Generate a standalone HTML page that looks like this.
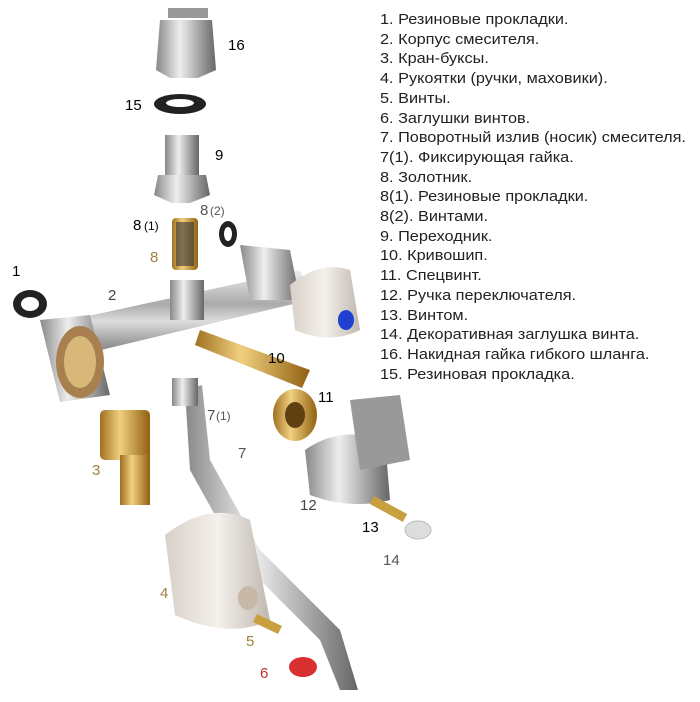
<!DOCTYPE html>
<html><head><meta charset="utf-8"><style>
body{margin:0;width:700px;height:702px;background:#fff;overflow:hidden;position:relative;font-family:"Liberation Sans",sans-serif}
.leg{position:absolute;left:380px;top:10px;font-size:15px;line-height:19.7px;color:#222;white-space:nowrap;transform:scaleX(1.085);transform-origin:0 0}
svg{position:absolute;left:0;top:0}
.l{font-family:"Liberation Sans",sans-serif;font-size:15px}
</style></head><body>
<svg width="700" height="702">
<defs>
<linearGradient id="chr" x1="0" y1="0" x2="0" y2="1"><stop offset="0" stop-color="#eee"/><stop offset=".4" stop-color="#aaa"/><stop offset=".6" stop-color="#ddd"/><stop offset="1" stop-color="#777"/></linearGradient>
<linearGradient id="chrh" x1="0" y1="0" x2="1" y2="0"><stop offset="0" stop-color="#888"/><stop offset=".4" stop-color="#eee"/><stop offset=".7" stop-color="#aaa"/><stop offset="1" stop-color="#666"/></linearGradient>
<linearGradient id="br" x1="0" y1="0" x2="1" y2="0"><stop offset="0" stop-color="#a07020"/><stop offset=".4" stop-color="#f0d080"/><stop offset="1" stop-color="#906010"/></linearGradient>
<linearGradient id="wh" x1="0" y1="0" x2="1" y2="0"><stop offset="0" stop-color="#d8d0c8"/><stop offset=".5" stop-color="#f4f0ec"/><stop offset="1" stop-color="#c0b8b0"/></linearGradient>
</defs>
<rect x="168" y="8" width="40" height="10" fill="#999"/>
<path d="M160 20 L212 20 L216 70 L198 78 L170 78 L156 70 Z" fill="url(#chrh)"/>
<text x="228" y="50" class="l">16</text>
<ellipse cx="180" cy="104" rx="26" ry="10" fill="#222"/><ellipse cx="180" cy="103" rx="14" ry="4" fill="#fff"/>
<text x="125" y="110" class="l">15</text>
<rect x="165" y="135" width="34" height="42" fill="url(#chrh)"/>
<path d="M158 175 L206 175 L210 195 L190 203 L172 203 L154 195Z" fill="url(#chrh)"/>
<text x="215" y="160" class="l">9</text>
<rect x="172" y="218" width="26" height="52" rx="4" fill="url(#br)"/>
<rect x="176" y="222" width="18" height="44" fill="#333" opacity=".6"/>
<text x="150" y="262" class="l" fill="#a08040">8</text>
<text x="133" y="230" class="l">8</text><text x="144" y="230" font-size="12" font-family="Liberation Sans">(1)</text>
<text x="200" y="215" class="l" fill="#555">8</text><text x="210" y="215" font-size="12" fill="#555" font-family="Liberation Sans">(2)</text>
<ellipse cx="228" cy="234" rx="9" ry="13" fill="#222"/><ellipse cx="228" cy="234" rx="4" ry="7" fill="#fff"/>
<text x="12" y="276" class="l">1</text>
<ellipse cx="30" cy="304" rx="17" ry="14" fill="#222"/><ellipse cx="30" cy="304" rx="9" ry="7" fill="#fff"/>
<path d="M70 320 L300 270 L310 300 L80 355Z" fill="url(#chr)"/>
<path d="M240 245 L290 250 L300 300 L250 300Z" fill="url(#chrh)"/>
<path d="M40 320 L90 315 L110 395 L60 402Z" fill="url(#chrh)"/>
<ellipse cx="80" cy="362" rx="24" ry="36" fill="#a88050"/><ellipse cx="80" cy="362" rx="16" ry="26" fill="#d8b878"/>
<rect x="170" y="280" width="34" height="40" fill="url(#chrh)"/>
<text x="108" y="300" class="l" fill="#444">2</text>
<path d="M290 285 Q320 260 350 270 L360 330 Q330 345 295 330Z" fill="url(#wh)"/>
<ellipse cx="346" cy="320" rx="8" ry="10" fill="#2040d0"/>
<path d="M200 330 L310 370 L302 388 L195 345Z" fill="url(#br)"/>
<text x="268" y="363" class="l">10</text>
<ellipse cx="295" cy="415" rx="22" ry="26" fill="url(#br)"/><ellipse cx="295" cy="415" rx="10" ry="13" fill="#604010"/>
<text x="318" y="402" class="l">11</text>
<rect x="100" y="410" width="50" height="50" rx="5" fill="url(#br)"/>
<rect x="120" y="455" width="30" height="50" fill="url(#br)"/>
<text x="92" y="475" class="l" fill="#a08040">3</text>
<path d="M185 390 L190 470 L240 560 L320 640 L340 690 L358 690 L340 630 L260 550 L210 460 L202 385Z" fill="url(#chrh)"/>
<rect x="172" y="378" width="26" height="28" fill="url(#chrh)"/>
<text x="207" y="420" class="l" fill="#555">7</text><text x="216" y="420" font-size="12" fill="#555" font-family="Liberation Sans">(1)</text>
<text x="238" y="458" class="l" fill="#555">7</text>
<path d="M305 450 Q340 425 385 440 L390 500 Q350 510 310 495Z" fill="url(#chrh)"/>
<path d="M350 400 L400 395 L410 460 L360 470Z" fill="#999"/>
<text x="300" y="510" class="l" fill="#444">12</text>
<path d="M372 500 L405 518" stroke="#c8a040" stroke-width="9"/>
<text x="362" y="532" class="l">13</text>
<ellipse cx="418" cy="530" rx="13" ry="9" fill="#ddd" stroke="#bbb"/>
<text x="383" y="565" class="l" fill="#555">14</text>
<path d="M165 535 Q210 500 250 520 L270 620 Q230 640 175 615Z" fill="url(#wh)"/>
<ellipse cx="248" cy="598" rx="10" ry="12" fill="#c8b8a8"/>
<text x="160" y="598" class="l" fill="#a08040">4</text>
<path d="M255 618 L280 630" stroke="#c8a040" stroke-width="9"/>
<text x="246" y="646" class="l" fill="#a08040">5</text>
<ellipse cx="303" cy="667" rx="14" ry="10" fill="#d83030"/>
<text x="260" y="678" class="l" fill="#c03030">6</text>
</svg>
<div class="leg">1. Резиновые прокладки.<br>2. Корпус смесителя.<br>3. Кран-буксы.<br>4. Рукоятки (ручки, маховики).<br>5. Винты.<br>6. Заглушки винтов.<br>7. Поворотный излив (носик) смесителя.<br>7(1). Фиксирующая гайка.<br>8. Золотник.<br>8(1). Резиновые прокладки.<br>8(2). Винтами.<br>9. Переходник.<br>10. Кривошип.<br>11. Спецвинт.<br>12. Ручка переключателя.<br>13. Винтом.<br>14. Декоративная заглушка винта.<br>16. Накидная гайка гибкого шланга.<br>15. Резиновая прокладка.</div>
</body></html>
